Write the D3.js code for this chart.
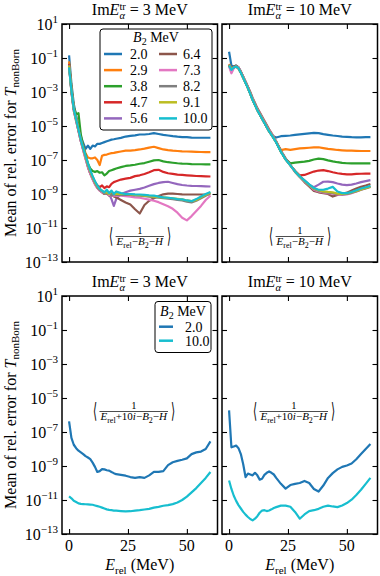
<!DOCTYPE html>
<html><head><meta charset="utf-8">
<script src="https://cdn.jsdelivr.net/npm/d3@7"></script>
<style>
body{margin:0;background:#fff}
svg{display:block}
text{font-family:"Liberation Serif","Times New Roman",serif;fill:#000;white-space:pre}
</style>
</head><body>
<svg id="c" width="380" height="576"></svg>
<script>
// ---------------- data (log10 of mean relative error) ----------------
const energies = [0,1,2,3,4,5,6,7,8,9,10,11,12,13,14,15,16,17,18,19,20,22,24,26,28,30,32,34,36,38,40,42,44,46,48,50,52,54,56,58,60];
const b2Labels = ["2.0","2.9","3.8","4.7","5.6","6.4","7.3","8.2","9.1","10.0"];
const b2Colors = ["#1f77b4","#ff7f0e","#2ca02c","#d62728","#9467bd","#8c564b","#e377c2","#7f7f7f","#bcbd22","#17becf"];
const cplxLabels = ["2.0","10.0"];
const cplxColors = ["#1f77b4","#17becf"];
const imValues = ["3","10"];
const yTickExps = [1,-1,-3,-5,-7,-9,-11,-13];
const xTicks = [0,25,50];

// panel (a): Im E = 3 MeV, real energies
const real3_b20 = [-0.85,-2.5,-3.7,-4.4,-5.0,-5.6,-6.0,-6.35,-6.15,-6.35,-6.15,-6.2,-6.05,-6.05,-6.0,-5.95,-5.9,-5.85,-5.8,-5.78,-5.75,-5.7,-5.62,-5.58,-5.55,-5.5,-5.5,-5.47,-5.42,-5.47,-5.52,-5.56,-5.6,-5.63,-5.65,-5.66,-5.68,-5.69,-5.69,-5.69,-5.69];
const real3_b29 = [-1.2,-2.7,-3.9,-4.5,-5.1,-5.7,-6.2,-6.6,-6.85,-6.9,-6.9,-6.85,-7.0,-7.3,-6.75,-6.7,-6.68,-6.63,-6.6,-6.58,-6.55,-6.5,-6.45,-6.45,-6.42,-6.38,-6.33,-6.27,-6.22,-6.3,-6.38,-6.42,-6.45,-6.47,-6.49,-6.5,-6.51,-6.52,-6.53,-6.54,-6.54];
const real3_b38 = [-1.35,-2.8,-3.9,-4.3,-4.25,-5.5,-6.2,-6.7,-7.2,-7.5,-7.65,-7.7,-7.65,-7.75,-7.72,-7.9,-7.8,-7.65,-7.6,-7.55,-7.5,-7.42,-7.35,-7.32,-7.28,-7.22,-7.18,-7.1,-7.02,-7.0,-7.08,-7.13,-7.16,-7.19,-7.21,-7.22,-7.24,-7.25,-7.25,-7.26,-7.26];
const real3_b47 = [-1.35,-2.9,-4.0,-4.6,-5.2,-5.8,-6.3,-6.8,-7.3,-7.7,-8.0,-8.3,-8.5,-8.6,-8.5,-8.65,-8.55,-8.6,-8.4,-8.3,-8.25,-8.15,-8.1,-8.05,-7.95,-7.9,-7.82,-7.72,-7.6,-7.58,-7.7,-7.78,-7.82,-7.86,-7.88,-7.9,-7.92,-7.94,-7.95,-7.96,-7.97];
const real3_b56 = [-1.4,-2.9,-4.0,-4.6,-5.3,-5.9,-6.4,-6.9,-7.4,-7.8,-8.1,-8.4,-8.6,-8.75,-8.85,-8.9,-8.95,-9.0,-9.3,-9.7,-9.3,-9.0,-8.9,-8.8,-8.75,-8.7,-8.62,-8.52,-8.42,-8.35,-8.3,-8.28,-8.35,-8.42,-8.47,-8.5,-8.52,-8.53,-8.54,-8.55,-8.56];
const real3_b64 = [-1.45,-3.0,-4.1,-4.7,-5.3,-5.9,-6.4,-6.9,-7.4,-7.8,-8.1,-8.4,-8.65,-8.8,-8.9,-9.0,-8.95,-9.1,-9.0,-9.15,-9.2,-9.35,-9.5,-9.62,-9.9,-10.15,-9.65,-9.4,-9.25,-9.12,-9.02,-8.98,-8.98,-9.0,-9.02,-9.03,-9.03,-9.03,-9.03,-9.03,-9.03];
const real3_b73 = [-1.5,-3.0,-4.1,-4.7,-5.3,-5.9,-6.45,-6.95,-7.4,-7.8,-8.15,-8.45,-8.65,-8.8,-8.9,-8.95,-9.0,-9.05,-9.1,-9.1,-9.1,-9.1,-9.12,-9.15,-9.2,-9.22,-9.28,-9.33,-9.4,-9.48,-9.6,-9.72,-9.87,-10.1,-10.4,-10.55,-10.3,-10.0,-9.7,-9.35,-9.1];
const real3_b82 = [-1.4,-2.9,-4.0,-4.6,-5.2,-5.8,-6.3,-6.8,-7.3,-7.7,-8.05,-8.35,-8.6,-8.75,-8.85,-8.95,-9.0,-8.9,-9.1,-9.0,-9.05,-9.05,-9.05,-9.05,-9.08,-9.1,-9.12,-9.15,-9.2,-9.22,-9.25,-9.28,-9.3,-9.35,-9.38,-9.45,-9.5,-9.4,-9.25,-9.1,-8.95];
const real3_b91 = [-1.45,-2.9,-4.0,-4.6,-5.2,-5.8,-6.3,-6.8,-7.25,-7.65,-8.0,-8.3,-8.55,-8.7,-8.8,-8.9,-8.9,-9.0,-8.85,-9.0,-9.0,-9.0,-9.0,-9.02,-9.05,-9.07,-9.1,-9.12,-9.15,-9.18,-9.2,-9.22,-9.25,-9.28,-9.32,-9.38,-9.42,-9.35,-9.2,-9.05,-8.92];
const real3_b100 = [-1.55,-2.9,-4.0,-4.6,-5.2,-5.8,-6.3,-6.75,-7.2,-7.6,-7.95,-8.25,-8.5,-8.7,-8.8,-8.9,-8.75,-8.95,-8.8,-9.0,-8.85,-8.95,-9.0,-9.0,-9.02,-9.03,-9.05,-9.08,-9.1,-9.15,-9.2,-9.22,-9.25,-9.3,-9.32,-9.38,-9.42,-9.3,-9.15,-9.0,-8.88];

// panel (b): Im E = 10 MeV, real energies
const real10_b20 = [-0.63,-1.45,-1.5,-1.45,-1.55,-1.8,-2.1,-2.4,-2.7,-3.05,-3.4,-3.7,-4.0,-4.25,-4.5,-4.75,-5.0,-5.25,-5.5,-5.62,-5.68,-5.6,-5.58,-5.56,-5.52,-5.49,-5.46,-5.43,-5.4,-5.42,-5.48,-5.52,-5.56,-5.59,-5.62,-5.64,-5.66,-5.67,-5.67,-5.66,-5.65];
const real10_b29 = [-1.35,-1.6,-1.55,-1.5,-1.6,-1.85,-2.15,-2.45,-2.75,-3.1,-3.45,-3.75,-4.05,-4.3,-4.55,-4.8,-5.05,-5.3,-5.5,-5.72,-5.95,-6.42,-6.36,-6.4,-6.36,-6.32,-6.3,-6.28,-6.26,-6.25,-6.3,-6.35,-6.38,-6.41,-6.43,-6.45,-6.45,-6.46,-6.47,-6.47,-6.47];
const real10_b38 = [-1.4,-1.65,-1.55,-1.5,-1.6,-1.85,-2.15,-2.45,-2.75,-3.1,-3.45,-3.75,-4.05,-4.3,-4.55,-4.8,-5.05,-5.3,-5.5,-5.72,-5.95,-6.5,-6.95,-7.2,-7.15,-7.12,-7.1,-7.05,-6.97,-6.92,-6.95,-7.02,-7.08,-7.13,-7.17,-7.19,-7.2,-7.2,-7.2,-7.2,-7.2];
const real10_b47 = [-1.4,-1.65,-1.55,-1.5,-1.6,-1.85,-2.15,-2.45,-2.75,-3.1,-3.45,-3.75,-4.05,-4.3,-4.55,-4.8,-5.05,-5.3,-5.5,-5.72,-5.95,-6.5,-6.95,-7.3,-7.65,-7.9,-7.88,-7.78,-7.68,-7.62,-7.6,-7.65,-7.72,-7.78,-7.82,-7.84,-7.84,-7.82,-7.81,-7.8,-7.8];
const real10_b56 = [-1.4,-1.65,-1.55,-1.5,-1.6,-1.85,-2.15,-2.45,-2.75,-3.1,-3.45,-3.75,-4.05,-4.3,-4.55,-4.8,-5.05,-5.3,-5.5,-5.72,-5.95,-6.5,-6.95,-7.3,-7.65,-7.95,-8.2,-8.45,-8.6,-8.45,-8.28,-8.27,-8.3,-8.38,-8.45,-8.48,-8.45,-8.38,-8.3,-8.24,-8.18];
const real10_b64 = [-1.45,-1.8,-1.5,-1.45,-1.55,-1.8,-2.1,-2.4,-2.7,-3.0,-3.35,-3.65,-3.95,-4.2,-4.45,-4.7,-4.95,-5.2,-5.42,-5.65,-5.9,-6.45,-6.9,-7.3,-7.7,-8.0,-8.3,-8.55,-8.82,-8.9,-8.95,-9.0,-9.15,-9.05,-9.0,-8.92,-8.8,-8.68,-8.58,-8.5,-8.41];
const real10_b73 = [-1.5,-1.9,-1.6,-1.5,-1.55,-1.8,-2.1,-2.4,-2.7,-3.05,-3.4,-3.7,-4.0,-4.25,-4.5,-4.75,-5.0,-5.25,-5.45,-5.68,-5.92,-6.48,-6.95,-7.32,-7.68,-7.98,-8.25,-8.5,-8.75,-8.85,-8.9,-8.95,-8.98,-9.02,-9.05,-9.02,-8.95,-8.85,-8.75,-8.65,-8.55];
const real10_b82 = [-1.4,-1.65,-1.55,-1.5,-1.6,-1.85,-2.15,-2.45,-2.75,-3.1,-3.45,-3.75,-4.05,-4.3,-4.55,-4.8,-5.05,-5.3,-5.5,-5.72,-5.95,-6.5,-6.95,-7.3,-7.65,-7.95,-8.22,-8.48,-8.7,-8.8,-8.88,-8.92,-8.95,-9.0,-9.02,-9.0,-8.93,-8.85,-8.75,-8.67,-8.58];
const real10_b91 = [-1.42,-1.66,-1.55,-1.5,-1.6,-1.86,-2.16,-2.46,-2.76,-3.11,-3.46,-3.76,-4.06,-4.31,-4.56,-4.81,-5.06,-5.31,-5.51,-5.73,-5.96,-6.52,-6.97,-7.32,-7.67,-7.97,-8.22,-8.47,-8.68,-8.78,-8.85,-8.88,-8.9,-8.98,-9.0,-8.97,-8.9,-8.82,-8.73,-8.65,-8.57];
const real10_b100 = [-1.45,-1.7,-1.55,-1.5,-1.6,-1.87,-2.17,-2.47,-2.77,-3.12,-3.47,-3.77,-4.07,-4.32,-4.57,-4.82,-5.07,-5.32,-5.52,-5.74,-5.97,-6.52,-6.97,-7.32,-7.67,-7.97,-8.2,-8.43,-8.65,-8.75,-8.75,-8.68,-8.58,-8.85,-8.95,-8.95,-8.88,-8.78,-8.68,-8.6,-8.52];

// panels (c),(d): complex shifted energies
const cplx3_b20 = [-6.38,-7.35,-7.75,-7.95,-8.1,-8.2,-8.3,-8.42,-8.5,-8.6,-8.8,-9.05,-9.35,-9.3,-9.18,-9.2,-9.25,-9.27,-9.35,-9.42,-9.48,-9.52,-9.57,-9.65,-9.7,-9.65,-9.7,-9.55,-9.35,-9.35,-9.3,-8.95,-8.78,-8.7,-8.63,-8.55,-8.3,-8.2,-8.15,-8.0,-7.55];
const cplx3_b100 = [-10.79,-10.9,-11.05,-11.12,-11.2,-11.23,-11.24,-11.25,-11.26,-11.27,-11.28,-11.32,-11.36,-11.4,-11.45,-11.5,-11.55,-11.58,-11.6,-11.62,-11.63,-11.65,-11.67,-11.66,-11.63,-11.6,-11.56,-11.52,-11.45,-11.4,-11.34,-11.3,-11.24,-11.15,-11.0,-10.8,-10.55,-10.3,-10.0,-9.7,-9.35];
const cplx10_b20 = [-5.73,-7.9,-7.85,-7.8,-7.95,-8.3,-8.9,-9.65,-9.45,-9.5,-9.55,-9.4,-9.55,-9.8,-9.75,-9.52,-9.4,-9.32,-9.4,-9.5,-9.7,-10.05,-10.33,-10.12,-10.05,-10.0,-9.88,-10.0,-10.35,-10.5,-10.15,-9.7,-9.42,-9.2,-9.05,-8.97,-8.85,-8.6,-8.3,-8.0,-7.7];
const cplx10_b100 = [-9.85,-10.35,-10.75,-11.05,-11.3,-11.5,-11.7,-11.86,-12.0,-12.12,-12.2,-12.1,-11.95,-11.75,-11.62,-11.6,-11.65,-11.62,-11.55,-11.47,-11.42,-11.33,-11.33,-11.4,-11.7,-12.1,-11.85,-11.65,-11.6,-11.52,-11.4,-11.33,-11.38,-11.42,-11.32,-11.18,-10.98,-10.7,-10.4,-10.05,-9.7];

const real3 = [real3_b20,real3_b29,real3_b38,real3_b47,real3_b56,real3_b64,real3_b73,real3_b82,real3_b91,real3_b100];
const real10 = [real10_b20,real10_b29,real10_b38,real10_b47,real10_b56,real10_b64,real10_b73,real10_b82,real10_b91,real10_b100];
const cplx3 = [cplx3_b20,cplx3_b100];
const cplx10 = [cplx10_b20,cplx10_b100];

// ---------------- layout ----------------
const svg = d3.select("#c");
const W = 155.5, H = 238;
const lefts = [62, 222], tops = [24, 296];
const measurer = svg.append("text").attr("visibility","hidden");
function measure(t, size, it){
  measurer.attr("font-size", size).attr("font-style", it ? "italic" : "normal").text(t);
  return measurer.node().getComputedTextLength();
}
// segments: {t, s, it, dy, stack}
function mathText(g, x, y, segs, anchor, rotate){
  let cx = 0, pending = null; const placed = [];
  segs.forEach(sg => {
    const w = measure(sg.t, sg.s, sg.it);
    if (pending) { placed.push({...sg, x: pending.x}); cx = pending.x + Math.max(w, pending.w); pending = null; }
    else if (sg.stack) { placed.push({...sg, x: cx}); pending = {x: cx, w: w}; }
    else { placed.push({...sg, x: cx}); cx += w; }
  });
  const off = anchor === "middle" ? -cx/2 : anchor === "end" ? -cx : 0;
  const t = g.append("text").attr("transform", `translate(${x},${y})` + (rotate ? ` rotate(${rotate})` : ""));
  placed.forEach(p => t.append("tspan").attr("x", off + p.x).attr("y", p.dy || 0)
    .attr("font-size", p.s).attr("font-style", p.it ? "italic" : null).text(p.t));
  return cx;
}

const panels = [
  {row:0, col:0, im:imValues[0], series:real3, colors:b2Colors, cplx:false},
  {row:0, col:1, im:imValues[1], series:real10, colors:b2Colors, cplx:false},
  {row:1, col:0, im:imValues[0], series:cplx3, colors:cplxColors, cplx:true},
  {row:1, col:1, im:imValues[1], series:cplx10, colors:cplxColors, cplx:true}
];

const yTickVals = yTickExps.map(e => Math.pow(10, e));

panels.forEach((p, pi) => {
  const x0 = lefts[p.col], y0 = tops[p.row];
  const xs = d3.scaleLinear().domain([-3, 63]).range([x0, x0 + W]);
  const ys = d3.scaleLog().domain([1e-13, 1e1]).range([y0 + H, y0]);
  const g = svg.append("g");

  const clipId = "clip" + pi;
  svg.append("clipPath").attr("id", clipId).append("rect")
    .attr("x", x0).attr("y", y0).attr("width", W).attr("height", H);

  const line = d3.line().x(d => xs(d[0])).y(d => ys(d[1]));
  const lg = g.append("g").attr("clip-path", `url(#${clipId})`);
  p.series.forEach((arr, si) => {
    const pts = energies.map((e, i) => [e, Math.pow(10, arr[i])]);
    lg.append("path").datum(pts).attr("d", line)
      .attr("fill", "none").attr("stroke", p.colors[si]).attr("stroke-width", 2.2)
      .attr("stroke-linejoin", "round");
  });

  // ticks (inward, all sides)
  const tickStyle = sel => { sel.select(".domain").remove(); sel.selectAll("line").attr("stroke","#000").attr("stroke-width",1.1); sel.selectAll("text").remove(); };
  g.append("g").attr("transform", `translate(${x0},0)`)
    .call(d3.axisLeft(ys).tickValues(yTickVals).tickSize(-5).tickSizeOuter(0)).call(tickStyle);
  g.append("g").attr("transform", `translate(${x0 + W},0)`)
    .call(d3.axisRight(ys).tickValues(yTickVals).tickSize(-5).tickSizeOuter(0)).call(tickStyle);
  g.append("g").attr("transform", `translate(0,${y0 + H})`)
    .call(d3.axisBottom(xs).tickValues(xTicks).tickSize(-5).tickSizeOuter(0)).call(tickStyle);
  g.append("g").attr("transform", `translate(0,${y0})`)
    .call(d3.axisTop(xs).tickValues(xTicks).tickSize(-5).tickSizeOuter(0)).call(tickStyle);

  g.append("rect").attr("x", x0).attr("y", y0).attr("width", W).attr("height", H)
    .attr("fill", "none").attr("stroke", "#000").attr("stroke-width", 1.5);

  // y tick labels
  if (p.col === 0) {
    yTickExps.forEach(e => {
      mathText(g, x0 - 4, ys(Math.pow(10, e)) + 6,
        [{t:"10", s:16}, {t:(e < 0 ? "\u2212" + (-e) : String(e)), s:11, dy:-7}], "end");
    });
  }
  // x tick labels + x label
  if (p.row === 1) {
    xTicks.forEach(v => {
      g.append("text").attr("x", xs(v)).attr("y", y0 + H + 17).attr("text-anchor","middle")
        .attr("font-size", 16).text(String(v));
    });
    mathText(g, x0 + W/2, y0 + H + 36,
      [{t:"E", s:16, it:1}, {t:"rel", s:11, dy:3.5}, {t:" (MeV)", s:16}], "middle");
  }
  // title
  mathText(g, x0 + W/2, y0 - 9,
    [{t:"Im", s:16}, {t:"E", s:16, it:1}, {t:"\u03b1", s:10.5, it:1, dy:4, stack:1}, {t:"tr", s:10.5, dy:-5.5},
     {t:" = " + p.im + " MeV", s:16}], "middle");

  // annotation <1/(...)>
  const cx = x0 + W/2 + (p.cplx ? -6 : 0);
  const numY = p.cplx ? y0 + 113 : y0 + 210;
  const den = p.cplx
    ? [{t:"E", s:11, it:1}, {t:"rel", s:8, dy:2.5}, {t:"+10", s:11}, {t:"i", s:11, it:1}, {t:"\u2212", s:11},
       {t:"B", s:11, it:1}, {t:"2", s:8, dy:2.5}, {t:"\u2212", s:11}, {t:"H", s:11, it:1}]
    : [{t:"E", s:11, it:1}, {t:"rel", s:8, dy:2.5}, {t:"\u2212", s:11},
       {t:"B", s:11, it:1}, {t:"2", s:8, dy:2.5}, {t:"\u2212", s:11}, {t:"H", s:11, it:1}];
  const dw = mathText(g, cx, numY + 11, den, "middle");
  g.append("text").attr("x", cx).attr("y", numY).attr("text-anchor","middle").attr("font-size", 10.5).text("1");
  g.append("line").attr("x1", cx - dw/2 - 1).attr("x2", cx + dw/2 + 1).attr("y1", numY + 2.5).attr("y2", numY + 2.5)
    .attr("stroke","#000").attr("stroke-width", 0.7);
  [["\u27e8", cx - dw/2 - 4, "end"], ["\u27e9", cx + dw/2 + 4, "start"]].forEach(b => {
    g.append("text").attr("transform", `translate(${b[1]},${numY + 8.5}) scale(0.8,1.6)`)
      .attr("text-anchor", b[2]).attr("font-size", 13)
      .style("font-family", "'DejaVu Sans','Noto Sans CJK SC',serif").style("font-weight", 200).text(b[0]);
  });
});

// y labels, one per row
tops.forEach(t => {
  mathText(svg, 15.5, t + H/2,
    [{t:"Mean of rel. error for ", s:16}, {t:"T", s:16, it:1}, {t:"nonBorn", s:11, dy:3.5}], "middle", -90);
});

// legends
function legend(x, y, w, h, titleX, titleY, items) {
  const g = svg.append("g");
  g.append("rect").attr("x", x).attr("y", y).attr("width", w).attr("height", h).attr("rx", 3)
    .attr("fill", "#fff").attr("stroke", "#000").attr("stroke-width", 1);
  mathText(g, titleX, titleY, [{t:"B", s:14, it:1}, {t:"2", s:10, dy:3}, {t:" MeV", s:14}], "middle");
  items.forEach(it => {
    g.append("line").attr("x1", it.lx).attr("x2", it.lx + it.len).attr("y1", it.y).attr("y2", it.y)
      .attr("stroke", it.color).attr("stroke-width", 2.5);
    g.append("text").attr("x", it.tx).attr("y", it.y + 5).attr("font-size", 14).text(it.label);
  });
}
legend(100, 29, 112, 101, 156, 42,
  b2Labels.map((l, i) => ({label:l, color:b2Colors[i], lx: i < 5 ? 104 : 159, len: 18, tx: i < 5 ? 130 : 183, y: 54 + (i % 5) * 16.1})));
legend(155, 301.5, 56, 51, 183, 316,
  cplxLabels.map((l, i) => ({label:l, color:cplxColors[i], lx: 159, len: 14, tx: 185, y: 326.7 + i * 14})));
</script>
</body></html>
